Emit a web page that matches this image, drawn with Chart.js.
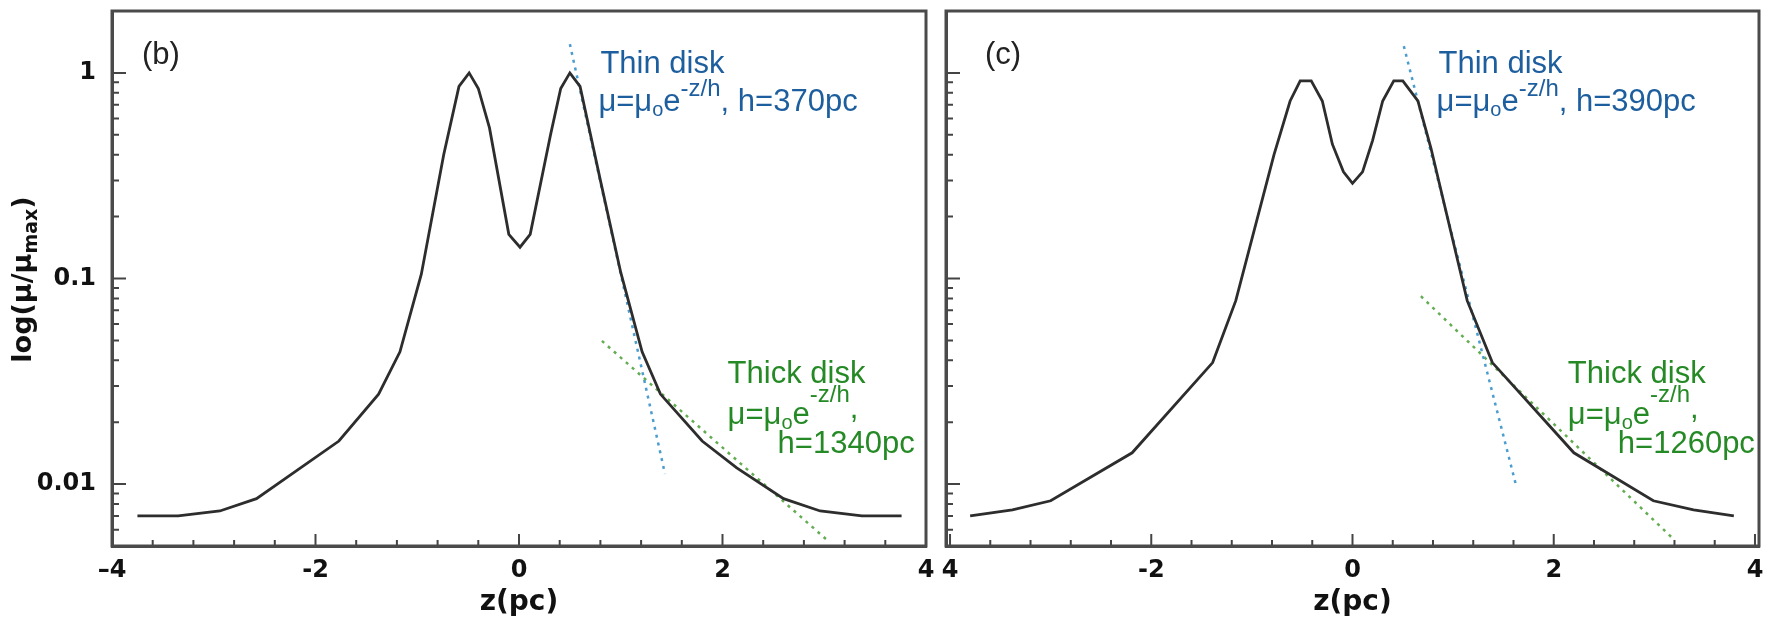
<!DOCTYPE html>
<html>
<head>
<meta charset="utf-8">
<script src="https://cdn.jsdelivr.net/npm/chart.js@4.4.1/dist/chart.umd.min.js"></script>
<style>
  html, body { margin: 0; padding: 0; background: #fff; }
  #wrap { position: relative; width: 1773px; height: 623px; }
  #boxB { position: absolute; left: 0; top: 0; }
  #boxC { position: absolute; left: 936px; top: 0; }
</style>
</head>
<body>
<div id="wrap">
  <canvas id="boxB" width="936" height="623"></canvas>
  <canvas id="boxC" width="837" height="623"></canvas>
</div>
<script>
// axis ticks
const zTicks = [-4, -3.6, -3.2, -2.8, -2.4, -2, -1.6, -1.2, -0.8, -0.4, 0, 0.4, 0.8, 1.2, 1.6, 2, 2.4, 2.8, 3.2, 3.6, 4];
const zMajor = [-4, -2, 0, 2, 4];
const zLabelsB = ['–4', '-2', '0', '2', '4'];
const zLabelsC = ['4', '-2', '0', '2', '4'];
const muTicks = [0.005, 0.006, 0.007, 0.008, 0.009, 0.01, 0.02, 0.03, 0.04, 0.05, 0.06, 0.07, 0.08, 0.09,
                 0.1, 0.2, 0.3, 0.4, 0.5, 0.6, 0.7, 0.8, 0.9, 1];
const muMajor = [0.01, 0.1, 1];
const muLabels = ['0.01', '0.1', '1'];

// panel (b) profile
const zB = [-3.75, -3.35, -2.94, -2.58, -1.77, -1.38, -1.17, -0.96, -0.74, -0.59, -0.49, -0.40, -0.29, -0.10, 0.01,
            0.11, 0.31, 0.41, 0.50, 0.60, 0.80, 1.00, 1.21, 1.39, 1.80, 2.14, 2.60, 2.96, 3.37, 3.76];
const muB = [0.0070, 0.0070, 0.0074, 0.0085, 0.0162, 0.0274, 0.044, 0.105, 0.40, 0.86, 1.0, 0.84, 0.54, 0.164, 0.142,
             0.164, 0.50, 0.84, 1.0, 0.86, 0.30, 0.107, 0.044, 0.0274, 0.0162, 0.012, 0.0085, 0.0074, 0.0070, 0.0070];
// panel (b) fits
const thinZB = [0.50, 1.435];
const thinMuB = [1.38, 0.0112];
const thickZB = [0.815, 3.04];
const thickMuB = [0.0497, 0.00528];

// panel (c) profile
const zC = [-3.80, -3.38, -3.00, -2.19, -1.39, -1.16, -0.78, -0.62, -0.52, -0.41, -0.30, -0.20, -0.09, 0.00,
            0.10, 0.20, 0.30, 0.41, 0.50, 0.65, 0.78, 1.14, 1.39, 2.20, 2.99, 3.39, 3.79];
const muC = [0.0070, 0.0075, 0.0083, 0.0142, 0.039, 0.078, 0.40, 0.73, 0.915, 0.915, 0.73, 0.45, 0.33, 0.29,
             0.33, 0.47, 0.73, 0.915, 0.915, 0.73, 0.43, 0.078, 0.039, 0.0142, 0.0083, 0.0075, 0.0070];
// panel (c) fits
const thinZC = [0.51, 1.62];
const thinMuC = [1.35, 0.0101];
const thickZC = [0.68, 3.18];
const thickMuC = [0.082, 0.00546];

const AXIS_FONT = 'DejaVu Sans';
const TEXT_FONT = '"Liberation Sans", Arial, sans-serif';
const BLUE_TXT = '#1d5e9e';
const GREEN_TXT = '#258a25';

function pts(xs, ys) {
    return xs.map((x, i) => ({ x: x, y: ys[i] }));
}

function findLin(list, v) {
    return list.findIndex(m => Math.abs(v - m) < 1e-6);
}

function findLog(list, v) {
    return list.findIndex(m => Math.abs(v / m - 1) < 1e-6);
}

// draw a run of text pieces, each with its own size and vertical shift
function drawRich(ctx, x, y, parts, color) {
    ctx.fillStyle = color;
    ctx.textAlign = 'left';
    ctx.textBaseline = 'alphabetic';
    parts.forEach(p => {
        ctx.font = p.size + 'px ' + TEXT_FONT;
        ctx.fillText(p.t, x, y + (p.dy || 0));
        x += ctx.measureText(p.t).width;
    });
}

function formula(tail, supDy) {
    const parts = [
        { t: 'μ=μ', size: 31 },
        { t: 'o', size: 20, dy: 5 },
        { t: 'e', size: 31 },
        { t: '-z/h', size: 24, dy: supDy }
    ];
    return parts.concat(tail);
}

function makePanel(id, cfg) {
    const frame = {
        id: 'frame_' + id,
        afterDraw(chart) {
            const { ctx, chartArea: a, scales: { x, y } } = chart;
            ctx.save();
            ctx.strokeStyle = '#444';
            ctx.lineWidth = 2;
            ctx.beginPath();
            x.ticks.forEach(t => {
                const px = x.getPixelForValue(t.value);
                const len = findLin(zMajor, t.value) >= 0 ? 12 : 6;
                ctx.moveTo(px, a.bottom);
                ctx.lineTo(px, a.bottom - len);
            });
            y.ticks.forEach(t => {
                const py = y.getPixelForValue(t.value);
                const len = findLog(muMajor, t.value) >= 0 ? 14 : 7;
                ctx.moveTo(a.left, py);
                ctx.lineTo(a.left + len, py);
            });
            ctx.stroke();
            ctx.lineWidth = 3;
            ctx.strokeStyle = '#4a4a4a';
            ctx.strokeRect(a.left, a.top, a.right - a.left, a.bottom - a.top);

            // panel letter
            ctx.fillStyle = '#222';
            ctx.font = '31px ' + TEXT_FONT;
            ctx.textAlign = 'left';
            ctx.textBaseline = 'alphabetic';
            ctx.fillText(cfg.panel, a.left + cfg.panelDx, a.top + 53);

            // fit annotations, anchored in data space
            const tx = x.getPixelForValue(cfg.thinAt[0]);
            const ty = y.getPixelForValue(cfg.thinAt[1]);
            drawRich(ctx, tx, ty, [{ t: 'Thin disk', size: 31 }], BLUE_TXT);
            drawRich(ctx, tx - 2, ty + 38, formula([{ t: ', h=' + cfg.thinH + 'pc', size: 31 }], -15), BLUE_TXT);

            const kx = x.getPixelForValue(cfg.thickAt[0]);
            const ky = y.getPixelForValue(cfg.thickAt[1]);
            drawRich(ctx, kx, ky, [{ t: 'Thick disk', size: 31 }], GREEN_TXT);
            drawRich(ctx, kx, ky + 41, formula([{ t: ',', size: 31, dy: -6 }], -22), GREEN_TXT);
            drawRich(ctx, kx + 50, ky + 70, [{ t: 'h=' + cfg.thickH + 'pc', size: 31 }], GREEN_TXT);

            // y axis title with subscript
            if (cfg.showY) {
                ctx.save();
                ctx.translate(31, (a.top + a.bottom) / 2 + 1);
                ctx.rotate(-Math.PI / 2);
                ctx.fillStyle = '#111';
                const parts = [
                    { t: 'log(μ/μ', f: 'bold 27px ' + AXIS_FONT, dy: 0 },
                    { t: 'max', f: 'bold 19px ' + AXIS_FONT, dy: 6 },
                    { t: ')', f: 'bold 27px ' + AXIS_FONT, dy: 0 }
                ];
                let w = 0;
                parts.forEach(p => { ctx.font = p.f; w += ctx.measureText(p.t).width; });
                let cx = -w / 2;
                parts.forEach(p => {
                    ctx.font = p.f;
                    ctx.fillText(p.t, cx, p.dy);
                    cx += ctx.measureText(p.t).width;
                });
                ctx.restore();
            }
            ctx.restore();
        }
    };

    return new Chart(document.getElementById(id), {
        type: 'line',
        data: {
            datasets: [
                {
                    data: pts(cfg.z, cfg.mu),
                    borderColor: '#2d2d2d',
                    borderWidth: 2.8,
                    pointRadius: 0,
                    tension: 0
                },
                {
                    data: pts(cfg.thinZ, cfg.thinMu),
                    borderColor: '#4b9dd0',
                    borderWidth: 2.5,
                    borderDash: [3, 5],
                    pointRadius: 0
                },
                {
                    data: pts(cfg.thickZ, cfg.thickMu),
                    borderColor: '#63ad52',
                    borderWidth: 2.5,
                    borderDash: [3, 5],
                    pointRadius: 0
                }
            ]
        },
        options: {
            responsive: false,
            animation: false,
            events: [],
            layout: { padding: { top: 11, left: 0, right: cfg.padRight, bottom: 0 } },
            plugins: { legend: { display: false }, tooltip: { enabled: false } },
            scales: {
                x: {
                    type: 'linear',
                    min: cfg.xMin,
                    max: cfg.xMax,
                    afterBuildTicks: s => { s.ticks = zTicks.map(v => ({ value: v })); },
                    afterFit: s => { s.height = 77; s.paddingLeft = 0; s.paddingRight = 0; },
                    grid: { display: false, drawTicks: false },
                    border: { display: true, color: '#4a4a4a', width: 3 },
                    ticks: {
                        autoSkip: false,
                        maxRotation: 0,
                        padding: 10,
                        color: '#111',
                        font: { family: AXIS_FONT, weight: 'bold', size: 24 },
                        callback: v => {
                            const i = findLin(zMajor, v);
                            return i >= 0 ? cfg.zLabels[i] : '';
                        }
                    },
                    title: {
                        display: true,
                        text: 'z(pc)',
                        color: '#111',
                        font: { family: AXIS_FONT, weight: 'bold', size: 28 },
                        padding: { top: 0, bottom: 3 }
                    }
                },
                y: {
                    type: 'logarithmic',
                    min: 0.005,
                    max: 2,
                    afterBuildTicks: s => { s.ticks = muTicks.map(v => ({ value: v })); },
                    afterFit: s => { s.width = cfg.yWidth; s.paddingTop = 0; s.paddingBottom = 0; },
                    grid: { display: false, drawTicks: false },
                    border: { display: true, color: '#4a4a4a', width: 3 },
                    ticks: {
                        display: cfg.showY,
                        autoSkip: false,
                        padding: 16,
                        color: '#111',
                        font: { family: AXIS_FONT, weight: 'bold', size: 24 },
                        callback: v => {
                            const i = findLog(muMajor, v);
                            return i >= 0 ? muLabels[i] : '';
                        }
                    }
                }
            }
        },
        plugins: [frame]
    });
}

makePanel('boxB', {
    z: zB, mu: muB,
    thinZ: thinZB, thinMu: thinMuB,
    thickZ: thickZB, thickMu: thickMuB,
    zLabels: zLabelsB,
    xMin: -4, xMax: 4,
    yWidth: 112, padRight: 10, showY: true,
    panel: '(b)', panelDx: 30,
    thinAt: [0.80, 1.0], thinH: '370',
    thickAt: [2.05, 0.031], thickH: '1340'
});

makePanel('boxC', {
    z: zC, mu: muC,
    thinZ: thinZC, thinMu: thinMuC,
    thickZ: thickZC, thickMu: thickMuC,
    zLabels: zLabelsC,
    xMin: -4.04, xMax: 4.04,
    yWidth: 10, padRight: 14, showY: false,
    panel: '(c)', panelDx: 39,
    thinAt: [0.855, 1.0], thinH: '390',
    thickAt: [2.14, 0.031], thickH: '1260'
});
</script>
</body>
</html>
